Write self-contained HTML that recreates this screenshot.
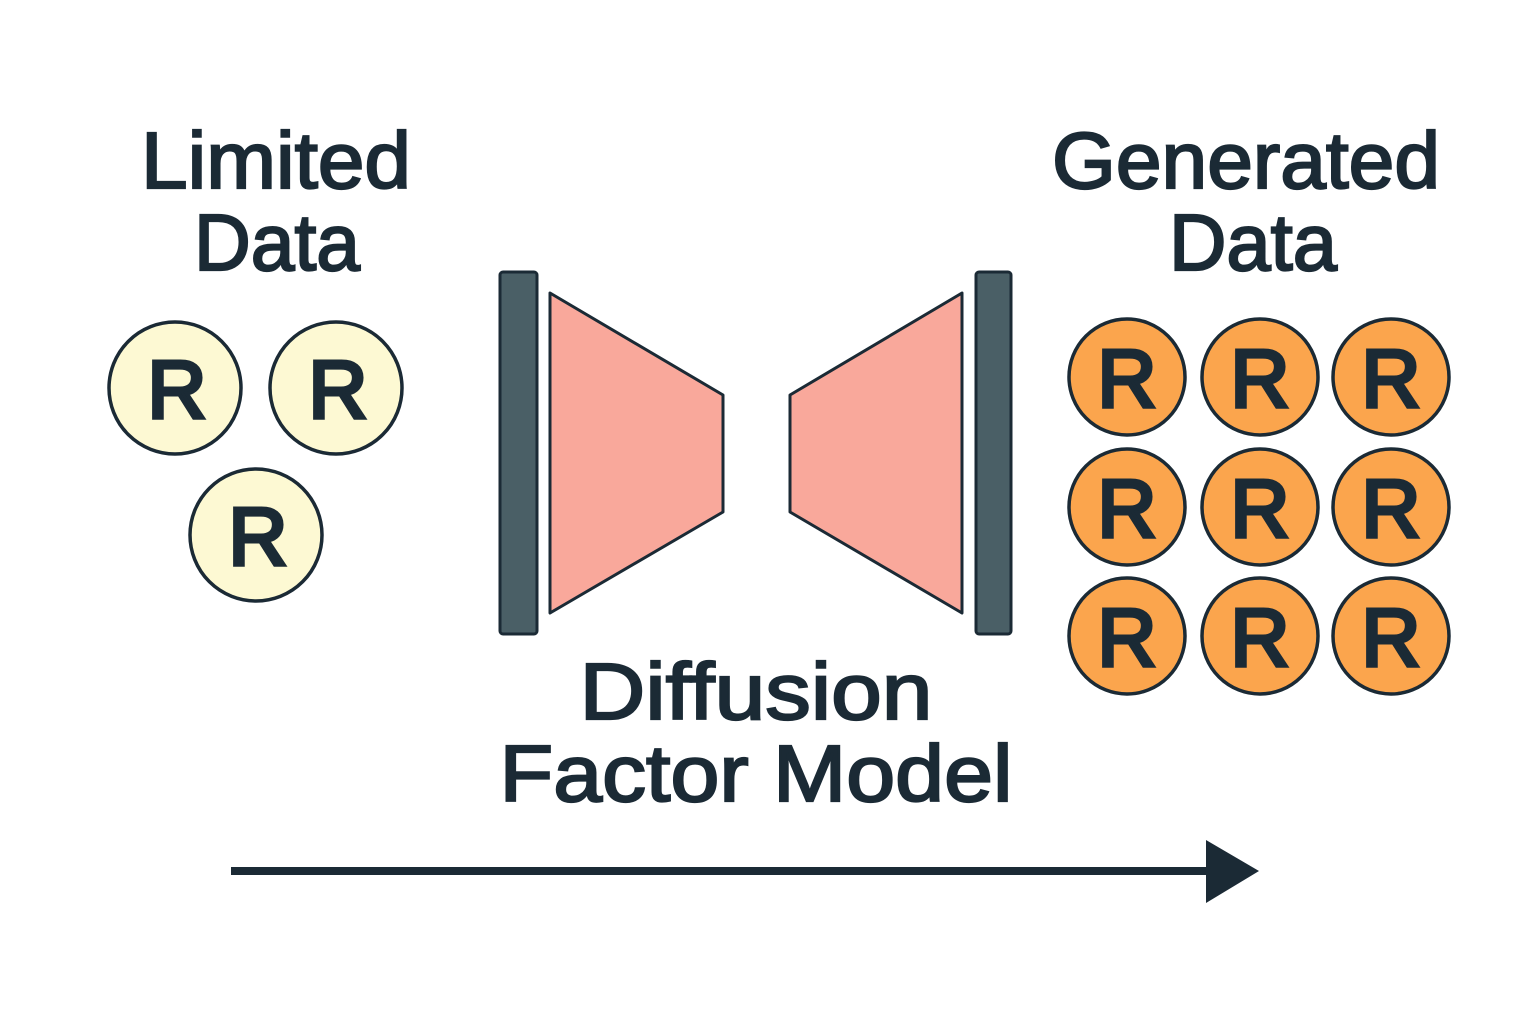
<!DOCTYPE html>
<html><head><meta charset="utf-8"><style>html,body{margin:0;padding:0;background:#fff}svg{display:block}</style></head>
<body>
<svg width="1536" height="1024" viewBox="0 0 1536 1024" xmlns="http://www.w3.org/2000/svg">
<rect width="1536" height="1024" fill="#fff"/>
<g font-family="Liberation Sans, sans-serif" font-weight="normal" fill="#1b2a35" stroke="#1b2a35" stroke-width="2.2" text-anchor="middle">
<text x="276" y="188" font-size="80" textLength="270" lengthAdjust="spacingAndGlyphs">Limited</text>
<text x="277" y="270" font-size="80" textLength="166" lengthAdjust="spacingAndGlyphs">Data</text>
<text x="1246" y="188" font-size="80" textLength="388" lengthAdjust="spacingAndGlyphs">Generated</text>
<text x="1253" y="270" font-size="80" textLength="168" lengthAdjust="spacingAndGlyphs">Data</text>
<text x="756" y="719" font-size="80" textLength="353" lengthAdjust="spacingAndGlyphs">Diffusion</text>
<text x="756" y="801" font-size="80" textLength="513" lengthAdjust="spacingAndGlyphs">Factor Model</text>
</g>
<g stroke="#1b2a35" stroke-width="3.5" fill="#fdf9d3">
<circle cx="175" cy="388" r="66"/><circle cx="336" cy="388" r="66"/><circle cx="256" cy="535" r="66"/>
</g>
<g stroke="#1b2a35" stroke-width="3.5" fill="#fba54d">
<circle cx="1127" cy="377" r="58"/><circle cx="1260" cy="377" r="58"/><circle cx="1391" cy="377" r="58"/>
<circle cx="1127" cy="507" r="58"/><circle cx="1260" cy="507" r="58"/><circle cx="1391" cy="507" r="58"/>
<circle cx="1127" cy="636" r="58"/><circle cx="1260" cy="636" r="58"/><circle cx="1391" cy="636" r="58"/>
</g>
<g font-family="Liberation Sans, sans-serif" font-weight="normal" fill="#1b2a35" stroke="#1b2a35" stroke-width="4" text-anchor="middle" font-size="82">
<text x="177" y="418">R</text><text x="338" y="418">R</text><text x="258" y="565">R</text>
<text x="1127" y="407">R</text><text x="1260" y="407">R</text><text x="1391" y="407">R</text>
<text x="1127" y="537">R</text><text x="1260" y="537">R</text><text x="1391" y="537">R</text>
<text x="1127" y="666">R</text><text x="1260" y="666">R</text><text x="1391" y="666">R</text>
</g>
<g stroke="#1b2a35" stroke-width="3">
<rect x="500" y="272" width="37" height="362" rx="3" fill="#4a5f66"/>
<rect x="976" y="272" width="35" height="362" rx="3" fill="#4a5f66"/>
<polygon points="550,293 723,395 723,512 550,613" fill="#f9a89b" stroke-linejoin="round"/>
<polygon points="962,293 790,395 790,512 962,613" fill="#f9a89b" stroke-linejoin="round"/>
</g>
<line x1="231" y1="871" x2="1215" y2="871" stroke="#1b2a35" stroke-width="8"/>
<polygon points="1206,840 1259,871 1206,903" fill="#1b2a35"/>
</svg>
</body></html>
